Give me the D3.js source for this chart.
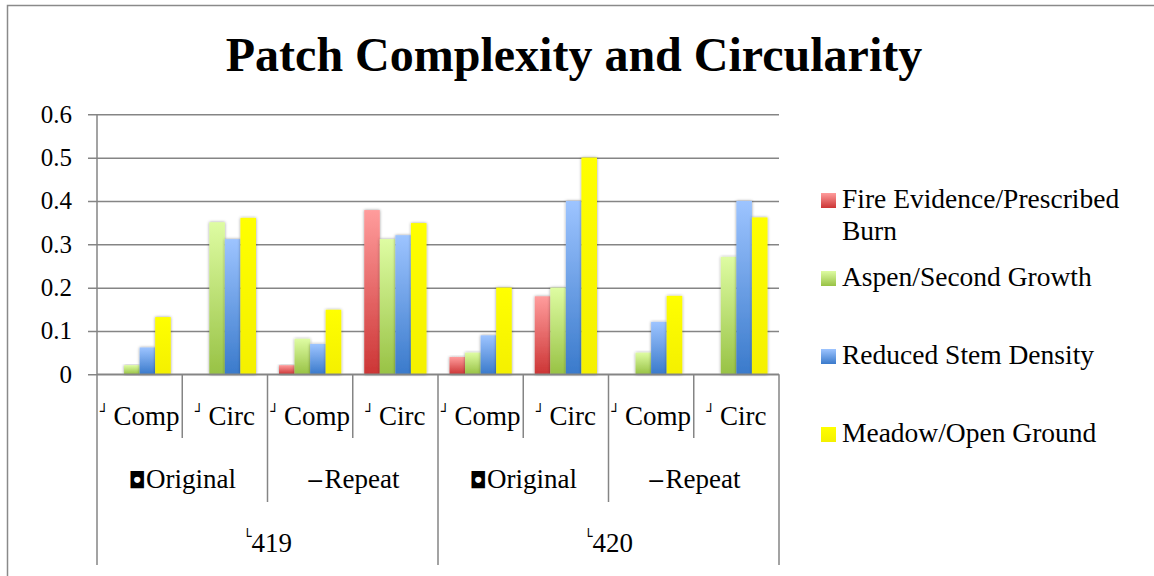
<!DOCTYPE html>
<html>
<head>
<meta charset="utf-8">
<script src="https://cdn.jsdelivr.net/npm/d3@7"></script>
<style>
  body { margin: 0; background: #fff; }
  svg { display: block; }
  text { font-family: "Liberation Serif", "DejaVu Serif", serif; fill: #000; }
  .glyph { font-family: "DejaVu Sans", sans-serif; fill: #000; }
</style>
</head>
<body>
<div id="chart"></div>
<script>
// ---- data ----
const categories = ['Comp', 'Circ', 'Comp', 'Circ', 'Comp', 'Circ', 'Comp', 'Circ'];
const subGroups = ['Original', 'Repeat', 'Original', 'Repeat'];
const subGroupMarks = ['\u25D8', '\u2212', '\u25D8', '\u2212'];
const topGroups = ['419', '420'];
const seriesNames = ['Fire Evidence/Prescribed Burn', 'Aspen/Second Growth', 'Reduced Stem Density', 'Meadow/Open Ground'];
const fireValues   = [0,     0,     0.021, 0.379, 0.04, 0.18, 0,    0];
const aspenValues  = [0.021, 0.351, 0.082, 0.312, 0.05, 0.20, 0.05, 0.271];
const stemValues   = [0.062, 0.312, 0.07,  0.321, 0.09, 0.40, 0.121, 0.40];
const meadowValues = [0.132, 0.361, 0.149, 0.349, 0.20, 0.50, 0.181, 0.362];
const yTicks = [0, 0.1, 0.2, 0.3, 0.4, 0.5, 0.6];

const seriesValues = [fireValues, aspenValues, stemValues, meadowValues];
// gradient colours top -> bottom
const seriesColors = [
  ['#ff9c9c', '#cc3535'],
  ['#defca2', '#98c245'],
  ['#9dc4ff', '#3a7acb'],
  ['#ffff00', '#f4f000']
];

const width = 1154, height = 576;
const plot = { left: 97, right: 779, top: 114.3, bottom: 374.3 };

const svg = d3.select('#chart').append('svg')
  .attr('width', width)
  .attr('height', height);

const defs = svg.append('defs');
seriesColors.forEach((c, i) => {
  const g = defs.append('linearGradient')
    .attr('id', 'grad' + i)
    .attr('x1', 0).attr('y1', 0).attr('x2', 0).attr('y2', 1);
  g.append('stop').attr('offset', '0%').attr('stop-color', c[0]);
  g.append('stop').attr('offset', '100%').attr('stop-color', c[1]);
});
const shadow = defs.append('filter').attr('id', 'shadow')
  .attr('x', '-40%').attr('y', '-10%').attr('width', '180%').attr('height', '120%');
shadow.append('feDropShadow')
  .attr('dx', 0).attr('dy', 0).attr('stdDeviation', 1.8)
  .attr('flood-color', '#000').attr('flood-opacity', 0.4);

// outer chart border
svg.append('rect')
  .attr('x', 7.5).attr('y', 5.5)
  .attr('width', width).attr('height', height)
  .attr('fill', 'none')
  .attr('stroke', '#8a8a8a')
  .attr('stroke-width', 1.5);

// title
svg.append('text')
  .attr('x', 574)
  .attr('y', 71)
  .attr('text-anchor', 'middle')
  .style('font-size', '48px')
  .style('font-weight', 'bold')
  .text('Patch Complexity and Circularity');

// ---- scales ----
const y = d3.scaleLinear().domain([0, 0.6]).range([plot.bottom, plot.top]);
const x0 = d3.scaleBand().domain(d3.range(categories.length)).range([plot.left, plot.right]);
const x1 = d3.scaleBand().domain(d3.range(seriesNames.length))
  .range([11.5, x0.bandwidth() - 11.5]);

// y axis with gridlines
const yAxis = d3.axisLeft(y)
  .tickValues(yTicks)
  .tickSizeInner(-(plot.right - plot.left))
  .tickSizeOuter(0)
  .tickPadding(25)
  .tickFormat(d => d === 0 ? '0' : d3.format('.1f')(d));

const yg = svg.append('g')
  .attr('transform', `translate(${plot.left},0)`)
  .call(yAxis);
yg.select('.domain').remove();
yg.selectAll('.tick line')
  .attr('x1', -9)
  .attr('stroke', '#858585')
  .attr('stroke-width', 1.5);
yg.selectAll('.tick text')
  .style('font-family', '"Liberation Serif", serif')
  .style('font-size', '25px')
  .attr('fill', '#000');

// bars
const groups = svg.append('g').selectAll('g')
  .data(categories.map((c, i) => i))
  .join('g')
  .attr('transform', i => `translate(${x0(i)},0)`);

groups.selectAll('rect')
  .data(i => seriesValues.map((vals, s) => ({ s, v: vals[i] })).filter(d => d.v > 0))
  .join('rect')
  .attr('x', d => x1(d.s))
  .attr('y', d => y(d.v))
  .attr('width', x1.bandwidth())
  .attr('height', d => y(0) - y(d.v))
  .attr('fill', d => `url(#grad${d.s})`)
  .attr('filter', 'url(#shadow)');

// axis lines
const axisColor = '#858585';
svg.append('line')
  .attr('x1', plot.left).attr('x2', plot.left)
  .attr('y1', plot.top).attr('y2', plot.bottom)
  .attr('stroke', axisColor).attr('stroke-width', 1.5);
svg.append('line')
  .attr('x1', plot.left).attr('x2', plot.right)
  .attr('y1', plot.bottom).attr('y2', plot.bottom)
  .attr('stroke', axisColor).attr('stroke-width', 1.5);

// ---- multi-level category axis ----
const rowBottoms = [438, 502, 565];
const boundaries = d3.range(categories.length + 1);
svg.append('g').selectAll('line')
  .data(boundaries)
  .join('line')
  .attr('x1', i => i < categories.length ? x0(i) : plot.right)
  .attr('x2', i => i < categories.length ? x0(i) : plot.right)
  .attr('y1', plot.bottom)
  .attr('y2', i => i % 4 === 0 ? rowBottoms[2] : (i % 2 === 0 ? rowBottoms[1] : rowBottoms[0]))
  .attr('stroke', axisColor)
  .attr('stroke-width', 1.5);

const bandW = x0.bandwidth();

// row 1: Comp / Circ
const row1 = svg.append('g').selectAll('text')
  .data(categories)
  .join('text')
  .attr('x', (d, i) => x0(i) + bandW / 2)
  .attr('y', 425)
  .attr('text-anchor', 'middle')
  .style('font-size', '27px');
row1.append('tspan')
  .attr('class', 'glyph')
  .style('font-size', '14px')
  .attr('dy', -9)
  .text('\u2518');
row1.append('tspan')
  .attr('dy', 9)
  .text(d => '\u2009' + d);

// row 2: Original / Repeat
const row2 = svg.append('g').selectAll('text')
  .data(subGroups)
  .join('text')
  .attr('x', (d, i) => x0(i * 2) + bandW)
  .attr('y', 488)
  .attr('text-anchor', 'middle')
  .style('font-size', '27px');
row2.append('tspan')
  .attr('class', 'glyph')
  .style('font-size', '22px')
  .text((d, i) => subGroupMarks[i]);
row2.append('tspan')
  .text(d => d);

// row 3: 419 / 420
const row3 = svg.append('g').selectAll('text')
  .data(topGroups)
  .join('text')
  .attr('x', (d, i) => x0(i * 4) + bandW * 2)
  .attr('y', 552)
  .attr('text-anchor', 'middle')
  .style('font-size', '27px');
row3.append('tspan')
  .attr('class', 'glyph')
  .style('font-size', '14px')
  .attr('dy', -11)
  .text('\u2514');
row3.append('tspan')
  .attr('dy', 11)
  .text(d => d);

// ---- legend ----
const legendTop = 208;
const legendStep = 78;
const legend = svg.append('g').selectAll('g')
  .data(seriesNames)
  .join('g')
  .attr('transform', (d, i) => `translate(821,${legendTop + i * legendStep})`);

legend.append('rect')
  .attr('x', 0).attr('y', -15)
  .attr('width', 15).attr('height', 15)
  .attr('fill', (d, i) => `url(#grad${i})`);

legend.append('text')
  .attr('x', 21)
  .attr('y', 0)
  .style('font-size', '27.5px')
  .each(function (d) {
    const t = d3.select(this);
    // the first legend entry wraps before its last word
    const lines = d.length > 22 ? [d.slice(0, d.lastIndexOf(' ')), d.slice(d.lastIndexOf(' ') + 1)] : [d];
    lines.forEach((line, k) => {
      t.append('tspan')
        .attr('x', 21)
        .attr('dy', k === 0 ? 0 : 32)
        .text(line);
    });
  });
</script>
</body>
</html>
